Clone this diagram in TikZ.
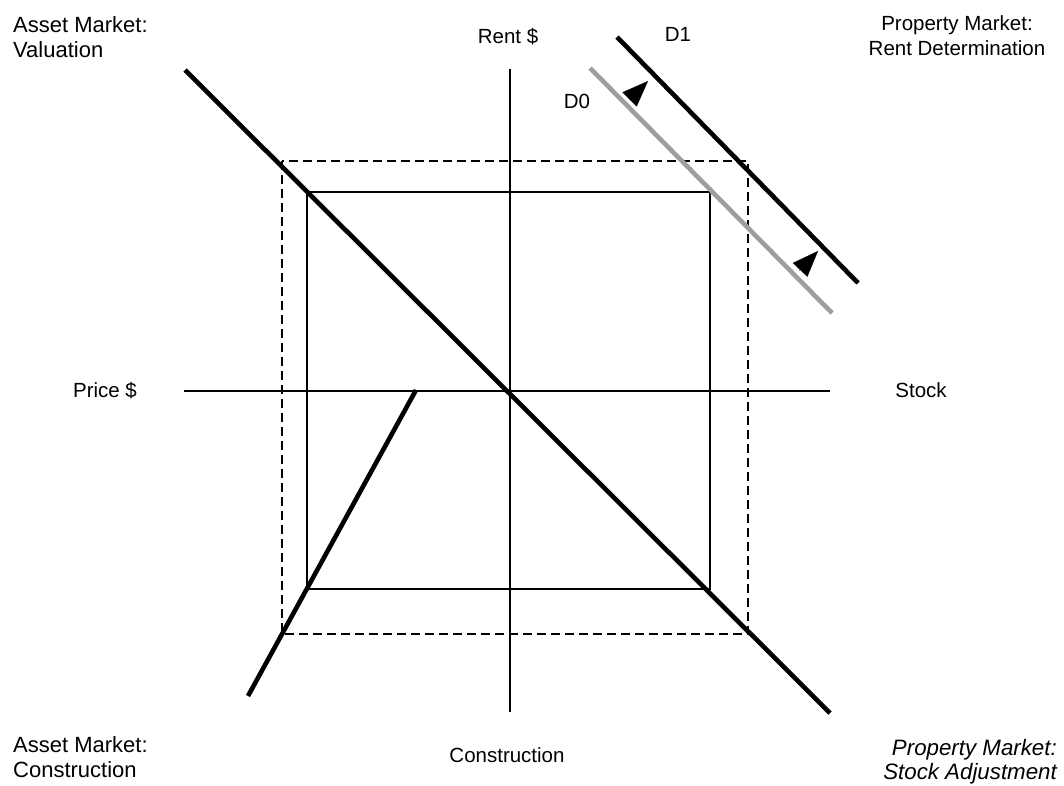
\documentclass[tikz,border=0pt]{standalone}
\usepackage{fontspec}
\setmainfont{Liberation Sans}
\usetikzlibrary{arrows.meta}

\begin{document}
\begin{tikzpicture}[x=1pt, y=-1pt,
  corner/.style={font=\fontsize{22}{25}\selectfont, inner sep=0pt},
  axislabel/.style={font=\fontsize{20.5}{24}\selectfont, inner sep=0pt, anchor=base},
  axisline/.style={line width=1.4pt},
  thickline/.style={line width=4.6pt},
  graycurve/.style={line width=4.6pt, color=black!38},
  box/.style={line width=1.4pt},
  dashbox/.style={line width=1.4pt, dash pattern=on 9pt off 5pt},
  shiftarrow/.style={line width=0.1pt, -{Triangle[length=26pt, width=20pt]}}]
\useasboundingbox (0,0) rectangle (1064,785);

% axes
\coordinate (rtop) at (510,69);
\coordinate (rbot) at (510,712);
\coordinate (pleft) at (184,391);
\coordinate (sright) at (830,391);
\draw[axisline] (rtop) -- (rbot);
\draw[axisline] (pleft) -- (sright);

% equilibrium boxes
\draw[box] (307,192) rectangle (710,589);
\draw[dashbox] (282,161) rectangle (748,634);

% valuation / stock adjustment line
\coordinate (v0) at (185,70);
\coordinate (v1) at (830,713);
\draw[thickline] (v0) -- (v1);

% construction line
\coordinate (c0) at (248,696);
\coordinate (c1) at (416,390);
\draw[thickline] (c0) -- (c1);

% demand curves
\coordinate (d0a) at (590,68);
\coordinate (d0b) at (832,313);
\coordinate (d1a) at (617,37);
\coordinate (d1b) at (858,283);
\draw[graycurve] (d0a) -- (d0b);
\draw[thickline] (d1a) -- (d1b);

% demand shift
\coordinate (s1a) at (629,100);
\coordinate (s1b) at (648,81);
\coordinate (s2a) at (799,271);
\coordinate (s2b) at (818,251);
\draw[shiftarrow] (s1a) -- (s1b);
\draw[shiftarrow] (s2a) -- (s2b);

% labels
\node[axislabel] (rent) at (508,43) {Rent \$};
\node[axislabel] (price) at (105,397) {Price \$};
\node[axislabel] (stock) at (921,397) {Stock};
\node[axislabel] (constr) at (507,762) {Construction};
\node[axislabel] (dzero) at (577,108) {D0};
\node[axislabel] (done) at (678,41) {D1};

\node[corner, anchor=north west, align=left] (tl) at (13,16) {Asset Market:\\Valuation};
\node[corner, anchor=north, align=center, font=\fontsize{20.5}{25}\selectfont] (tr) at (957,15) {Property Market:\\Rent Determination};
\node[corner, anchor=north west, align=left] (bl) at (13,736) {Asset Market:\\Construction};
\node[corner, anchor=north east, align=right, font=\fontsize{22.3}{24}\selectfont\itshape] (br) at (1057,739) {Property Market:\\Stock Adjustment};
\end{tikzpicture}
\end{document}
